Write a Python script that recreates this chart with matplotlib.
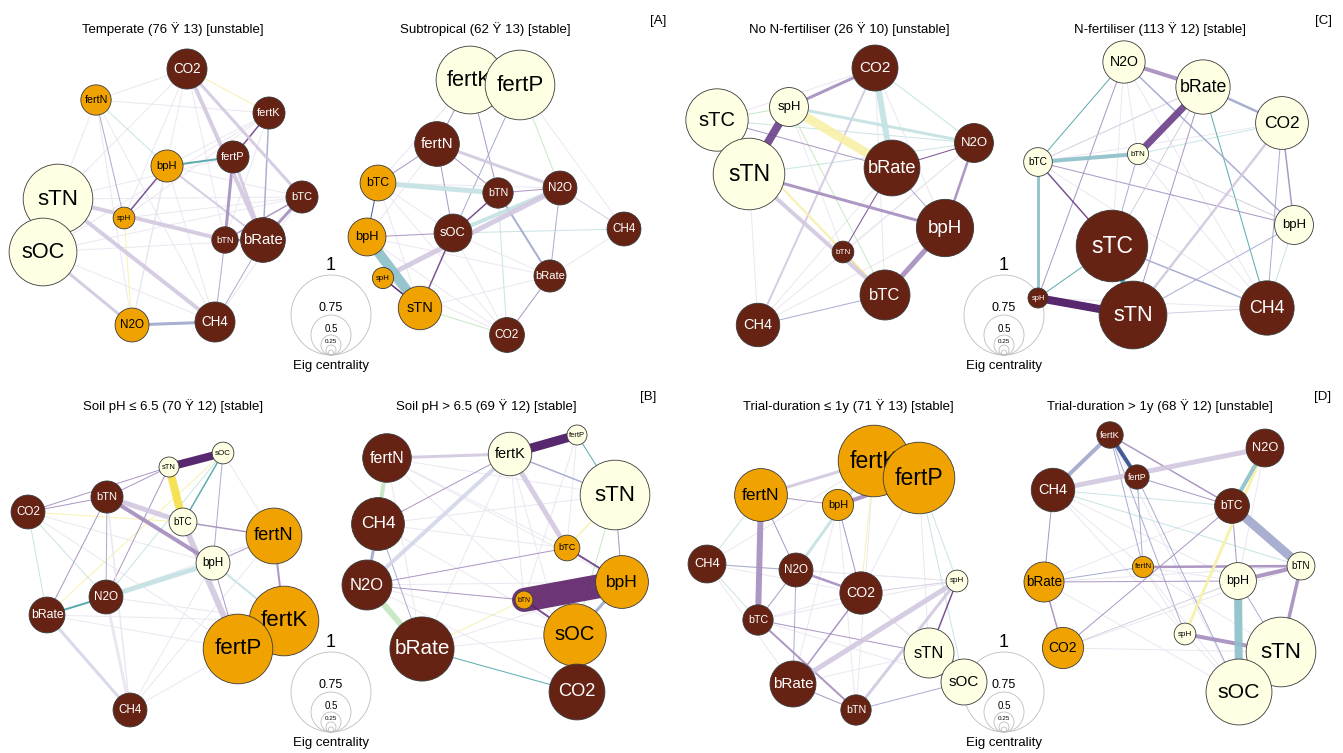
import matplotlib
matplotlib.use("Agg")
import matplotlib.pyplot as plt
from matplotlib.patches import Circle

plt.rcParams['font.family'] = ['Liberation Sans', 'DejaVu Sans']

# node fill by module
NODE_FILL = {"b": "#662314", "o": "#f0a300", "y": "#ffffe3"}
LABEL_INK = {"b": "white", "o": "black", "y": "black"}

# edge colour keys (association type / strength shade)
EDGE_COLOURS = {
    "P": "#45105e", "v": "#5d2067", "p": "#6c3f88", "m": "#a48cbd",
    "l": "#d2c8df", "f": "#e9e5f0", "q": "#d3d6e8", "B": "#30498a",
    "b": "#a0a6cc", "T": "#8cbfc8", "k": "#4aa3a8", "t": "#c4e1e3",
    "Y": "#f4df45", "y": "#f8f0a6", "g": "#c3e6c0",
}

# (name, x, y, eigenvector centrality, module)
temperate_nodes = [
    ("CO2", 187, 69, 0.75, "b"), ("fertN", 96, 100, 0.65, "o"),
    ("fertK", 269, 113, 0.67, "b"), ("bpH", 167, 166, 0.67, "o"),
    ("fertP", 233, 157, 0.67, "b"), ("bTC", 302, 197, 0.67, "b"),
    ("spH", 124, 218, 0.53, "o"), ("bTN", 225, 240, 0.60, "b"),
    ("bRate", 263, 240, 0.79, "b"), ("N2O", 132, 325, 0.69, "o"),
    ("CH4", 215, 322, 0.75, "b"), ("sTN", 58, 199, 0.95, "y"),
    ("sOC", 43, 252, 0.94, "y"),
]
temperate_edges = [
    ("fertN", "CO2", 1, "f"), ("fertN", "fertK", 1, "f"), ("fertN", "sTN", 1, "f"),
    ("sTN", "CO2", 1, "f"), ("sTN", "bTC", 1, "f"), ("sOC", "bTC", 1, "f"),
    ("sOC", "bRate", 1, "f"), ("CO2", "N2O", 1, "f"), ("CO2", "spH", 1, "f"),
    ("fertK", "bpH", 1, "f"), ("fertK", "spH", 1, "f"), ("bpH", "N2O", 1, "f"),
    ("bpH", "CH4", 1, "f"), ("fertN", "CH4", 1, "f"), ("sOC", "CH4", 1, "f"),
    ("bTC", "CH4", 1, "f"), ("spH", "bTC", 1, "f"), ("fertK", "bTN", 1, "f"),
    ("bpH", "bTC", 1, "f"), ("CO2", "bTN", 1, "f"), ("fertN", "N2O", 1, "f"),
    ("sTN", "fertP", 1, "f"), ("sOC", "fertK", 1, "f"),
    ("CO2", "fertK", 1, "y"), ("spH", "N2O", 1, "y"), ("fertN", "bpH", 1, "t"),
    ("fertN", "spH", 1, "b"), ("CH4", "bRate", 1, "b"), ("CH4", "bTN", 1, "b"),
    ("fertK", "bRate", 1.5, "b"), ("bTC", "bTN", 1.5, "m"), ("bpH", "spH", 1.5, "p"),
    ("fertK", "fertP", 1.5, "p"), ("bpH", "fertP", 2, "k"), ("bpH", "bRate", 2, "l"),
    ("bTN", "bRate", 2, "m"), ("bRate", "bTC", 3, "m"), ("fertP", "bTN", 3, "m"),
    ("fertP", "bRate", 3, "l"), ("CO2", "bTC", 3, "l"), ("CO2", "bRate", 4, "l"),
    ("sOC", "N2O", 3, "l"), ("N2O", "CH4", 3, "b"), ("sTN", "bTN", 4, "l"),
    ("sTN", "CH4", 4, "l"),
]

subtropical_nodes = [
    ("fertN", 437, 144, 0.79, "b"), ("bTC", 378, 183, 0.71, "o"),
    ("bTN", 498, 193, 0.65, "b"), ("N2O", 560, 188, 0.69, "b"),
    ("CH4", 624, 229, 0.69, "b"), ("bpH", 367, 237, 0.73, "o"),
    ("sOC", 453, 233, 0.73, "b"), ("bRate", 550, 276, 0.67, "b"),
    ("spH", 383, 278, 0.52, "o"), ("sTN", 420, 308, 0.78, "o"),
    ("CO2", 507, 335, 0.70, "b"), ("fertK", 470, 80, 0.94, "y"),
    ("fertP", 520, 85, 0.95, "y"),
]
subtropical_edges = [
    ("fertP", "N2O", 1, "g"), ("fertK", "bTC", 1, "f"), ("sOC", "bRate", 1, "f"),
    ("sOC", "CO2", 1, "f"), ("sTN", "CO2", 1, "g"), ("sTN", "bRate", 1, "f"),
    ("bTC", "CO2", 1, "f"), ("bpH", "CO2", 1, "f"), ("CH4", "sOC", 1, "t"),
    ("CH4", "bRate", 1, "f"), ("bTC", "N2O", 1, "f"), ("fertN", "bpH", 1, "f"),
    ("bTN", "CO2", 1, "t"), ("bTC", "sOC", 1, "f"), ("fertP", "CH4", 1, "f"),
    ("bpH", "bRate", 1, "f"), ("bTC", "sTN", 1, "f"), ("spH", "CO2", 1, "f"),
    ("fertK", "fertN", 1, "m"), ("fertK", "bTN", 1, "m"), ("fertP", "sOC", 1, "b"),
    ("bTC", "fertN", 1, "m"), ("fertN", "bTN", 1, "m"), ("fertN", "sOC", 1, "m"),
    ("bTN", "N2O", 1, "m"), ("N2O", "bRate", 1, "b"), ("bRate", "CO2", 1, "m"),
    ("N2O", "CH4", 1, "l"), ("bTC", "bpH", 1, "B"), ("bpH", "sOC", 1, "m"),
    ("sOC", "bTN", 1.5, "p"), ("sOC", "sTN", 1.5, "p"), ("spH", "sTN", 1.5, "P"),
    ("bTN", "bRate", 2, "b"), ("fertN", "N2O", 3, "l"), ("bTC", "bTN", 5, "t"),
    ("sOC", "N2O", 4, "t"), ("spH", "N2O", 5, "l"), ("bpH", "sTN", 10, "T"),
]

nofert_nodes = [
    ("CO2", 875, 68, 0.80, "b"), ("sTC", 717, 120, 0.91, "y"),
    ("spH", 789, 107, 0.74, "y"), ("sTN", 749, 174, 0.96, "y"),
    ("bRate", 892, 168, 0.87, "b"), ("N2O", 974, 143, 0.74, "b"),
    ("bpH", 945, 228, 0.88, "b"), ("bTN", 843, 252, 0.53, "b"),
    ("bTC", 885, 295, 0.83, "b"), ("CH4", 758, 325, 0.78, "b"),
]
nofert_edges = [
    ("CH4", "sTN", 1, "f"), ("CH4", "bRate", 1, "f"), ("CH4", "N2O", 1, "f"),
    ("CH4", "bpH", 1, "f"), ("sTC", "N2O", 1, "t"), ("sTN", "N2O", 1, "t"),
    ("spH", "bTC", 1, "g"), ("spH", "bTN", 1, "f"), ("CO2", "bTC", 1, "f"),
    ("CO2", "bpH", 1, "f"), ("sTC", "CO2", 1, "f"), ("bTN", "N2O", 1, "f"),
    ("sTC", "bTN", 1, "f"),
    ("CO2", "N2O", 1, "t"), ("sTC", "spH", 1, "g"), ("sTC", "bRate", 1, "m"),
    ("CH4", "bTC", 1, "b"), ("bRate", "bpH", 1, "b"), ("bRate", "N2O", 1, "p"),
    ("bRate", "bTN", 1, "p"), ("bTN", "bTC", 1, "p"), ("CH4", "CO2", 2, "l"),
    ("sTC", "bTC", 2, "y"), ("N2O", "bpH", 2.5, "m"), ("spH", "N2O", 3, "t"),
    ("spH", "CO2", 3, "m"), ("sTN", "bpH", 3, "m"), ("sTN", "bTC", 4, "l"),
    ("bpH", "bTC", 5, "m"), ("CO2", "bRate", 6, "t"), ("sTN", "spH", 8, "p"),
    ("spH", "bRate", 9, "y"),
]

nfert_nodes = [
    ("N2O", 1124, 62, 0.77, "y"), ("bRate", 1203, 87, 0.86, "y"),
    ("CO2", 1282, 123, 0.85, "y"), ("bTC", 1038, 162, 0.63, "y"),
    ("bTN", 1138, 154, 0.52, "y"), ("bpH", 1294, 225, 0.74, "y"),
    ("sTC", 1112, 246, 0.96, "b"), ("spH", 1038, 298, 0.50, "b"),
    ("sTN", 1133, 315, 0.94, "b"), ("CH4", 1267, 308, 0.86, "b"),
]
nfert_edges = [
    ("N2O", "CH4", 1, "f"), ("bTN", "CH4", 1, "f"), ("bTC", "CH4", 1, "f"),
    ("N2O", "sTC", 1, "f"), ("N2O", "bTN", 1, "f"), ("bTC", "CO2", 1, "f"),
    ("spH", "CH4", 1, "f"),
    ("bTN", "CO2", 1, "t"), ("N2O", "bTC", 1, "k"), ("bRate", "CH4", 1, "k"),
    ("bpH", "CH4", 1, "t"), ("spH", "sTC", 1, "k"), ("N2O", "spH", 1, "m"),
    ("CO2", "CH4", 1, "b"), ("bpH", "sTN", 1, "b"), ("bTC", "bpH", 1, "m"),
    ("bTN", "sTC", 1, "b"), ("bTN", "bpH", 1, "l"), ("sTN", "CH4", 1, "l"),
    ("bRate", "sTC", 1, "l"), ("bRate", "bTC", 1, "l"), ("bRate", "sTN", 1, "m"),
    ("bTC", "sTC", 1.5, "p"), ("CO2", "bpH", 1.5, "m"), ("N2O", "bpH", 1.5, "b"),
    ("sTC", "CH4", 1.5, "b"), ("bRate", "CO2", 2.5, "b"), ("CO2", "sTN", 2.5, "l"),
    ("bTC", "spH", 3, "T"), ("N2O", "bRate", 4, "m"), ("bTC", "bTN", 4, "T"),
    ("sTC", "sTN", 5, "k"), ("bRate", "bTN", 7, "p"), ("spH", "sTN", 8, "P"),
]

acid_nodes = [
    ("sOC", 223, 453, 0.53, "y"), ("sTN", 169, 467, 0.50, "y"),
    ("bTN", 107, 497, 0.67, "b"), ("CO2", 28, 512, 0.69, "b"),
    ("bTC", 183, 522, 0.62, "y"), ("fertN", 274, 536, 0.87, "o"),
    ("bpH", 213, 563, 0.69, "y"), ("N2O", 106, 597, 0.69, "b"),
    ("bRate", 47, 615, 0.71, "b"), ("CH4", 130, 710, 0.69, "b"),
    ("fertK", 284, 621, 0.95, "o"), ("fertP", 238, 649, 0.95, "o"),
]
acid_edges = [
    ("CH4", "fertN", 1, "f"), ("CH4", "fertP", 1, "f"), ("bRate", "fertP", 1, "f"),
    ("N2O", "fertK", 1, "f"), ("N2O", "fertN", 1, "f"), ("CO2", "bpH", 1, "f"),
    ("bRate", "bpH", 1, "f"), ("CH4", "bpH", 1, "f"), ("sOC", "fertN", 1, "f"),
    ("CO2", "fertP", 1, "f"), ("bRate", "fertK", 1, "f"),
    ("bRate", "sOC", 1, "y"), ("N2O", "sOC", 1, "t"), ("CO2", "bTC", 1, "y"),
    ("CO2", "N2O", 1, "t"), ("CO2", "bRate", 1, "t"), ("bTN", "CO2", 1, "m"),
    ("CO2", "sTN", 1, "m"), ("bTN", "sTN", 1, "m"), ("bTN", "N2O", 1, "b"),
    ("bTN", "bRate", 1, "m"), ("N2O", "sTN", 1, "m"), ("bpH", "fertN", 1, "m"),
    ("bpH", "fertP", 1, "m"), ("sOC", "bpH", 1, "b"), ("bTN", "CH4", 1.5, "f"),
    ("sOC", "bTC", 1.5, "k"), ("bTC", "fertN", 1.5, "m"), ("fertN", "fertK", 2, "m"),
    ("bpH", "fertK", 2, "t"), ("bRate", "N2O", 2, "k"), ("N2O", "CH4", 3, "f"),
    ("bRate", "CH4", 3, "q"), ("bTN", "bTC", 5, "l"), ("bTC", "fertP", 6, "l"),
    ("bTN", "bpH", 4, "m"), ("N2O", "bpH", 5, "t"), ("sTN", "bTC", 8, "Y"),
    ("sTN", "sOC", 8, "P"),
]

alkaline_nodes = [
    ("fertP", 577, 435, 0.50, "y"), ("fertK", 510, 454, 0.78, "y"),
    ("fertN", 387, 458, 0.82, "b"), ("sTN", 615, 495, 0.95, "y"),
    ("CH4", 378, 524, 0.85, "b"), ("bTC", 567, 548, 0.59, "o"),
    ("N2O", 367, 585, 0.83, "b"), ("bpH", 622, 582, 0.85, "o"),
    ("bTN", 524, 600, 0.46, "o"), ("bRate", 422, 649, 0.92, "b"),
    ("sOC", 575, 635, 0.91, "o"), ("CO2", 577, 692, 0.87, "b"),
]
alkaline_edges = [
    ("fertN", "bTC", 1, "f"), ("fertN", "bpH", 1, "f"), ("fertN", "sOC", 1, "f"),
    ("CH4", "bTC", 1, "f"), ("fertP", "bTN", 1, "f"), ("fertP", "bTC", 1, "f"),
    ("fertK", "bTN", 1, "f"), ("fertK", "bRate", 1, "f"), ("bRate", "bpH", 1, "f"),
    ("bRate", "sOC", 1, "f"), ("N2O", "sOC", 1, "f"), ("CH4", "sOC", 1, "f"),
    ("N2O", "bpH", 1, "f"), ("fertN", "sTN", 1, "f"), ("CH4", "sTN", 1, "f"),
    ("fertN", "bRate", 1, "f"), ("N2O", "CO2", 1, "f"), ("fertK", "CO2", 1, "f"),
    ("bRate", "CO2", 1, "k"), ("bRate", "bTN", 1, "y"), ("CH4", "bRate", 1, "b"),
    ("N2O", "bTC", 1, "m"), ("N2O", "bTN", 1, "m"), ("fertK", "CH4", 1, "m"),
    ("fertP", "sTN", 1, "k"), ("sTN", "bpH", 1, "m"), ("sTN", "sOC", 1, "g"),
    ("fertK", "sTN", 1.5, "b"), ("bTC", "sTN", 1.5, "y"), ("bTC", "bpH", 2, "p"),
    ("bTN", "sOC", 2, "p"), ("fertN", "fertK", 3, "l"), ("CH4", "N2O", 3, "b"),
    ("bpH", "sOC", 3, "b"), ("fertN", "CH4", 4, "g"), ("fertK", "N2O", 4, "q"),
    ("fertK", "bTC", 5, "l"), ("N2O", "bRate", 6, "g"), ("fertK", "fertP", 9, "P"),
    ("bTN", "bpH", 24, "v"),
]

short_nodes = [
    ("fertN", 761, 495, 0.85, "o"), ("fertK", 874, 461, 0.96, "o"),
    ("fertP", 919, 478, 0.96, "o"), ("bpH", 838, 505, 0.66, "o"),
    ("CH4", 707, 564, 0.73, "b"), ("N2O", 796, 570, 0.69, "b"),
    ("CO2", 861, 593, 0.77, "b"), ("spH", 957, 581, 0.53, "y"),
    ("bTC", 758, 620, 0.65, "b"), ("sTN", 929, 653, 0.83, "y"),
    ("sOC", 964, 682, 0.80, "y"), ("bRate", 793, 684, 0.80, "b"),
    ("bTN", 856, 710, 0.65, "b"),
]
short_edges = [
    ("CH4", "CO2", 1, "f"), ("CH4", "spH", 1, "f"), ("CH4", "bRate", 1, "f"),
    ("bTC", "CO2", 1, "f"), ("bpH", "bRate", 1, "f"), ("fertK", "bTN", 1, "f"),
    ("fertP", "CO2", 1, "f"), ("N2O", "spH", 1, "f"), ("CO2", "sTN", 1, "f"),
    ("bRate", "sTN", 1, "f"), ("bTC", "spH", 1, "f"), ("fertP", "sOC", 1, "t"),
    ("fertP", "spH", 1, "t"), ("fertP", "sTN", 1, "f"), ("fertK", "CH4", 1, "f"),
    ("bpH", "bTN", 1, "f"), ("fertK", "CO2", 1, "y"), ("CO2", "sOC", 1, "f"),
    ("bTC", "sOC", 1, "f"),
    ("fertN", "bpH", 1, "m"), ("fertN", "N2O", 1, "m"), ("fertN", "CH4", 1, "t"),
    ("CH4", "bTC", 1, "t"), ("CH4", "N2O", 1, "b"), ("N2O", "bTC", 1, "m"),
    ("N2O", "bRate", 1, "b"), ("bRate", "bTN", 1, "m"), ("bTN", "sOC", 1, "b"),
    ("bTC", "sTN", 1, "m"), ("CO2", "spH", 1, "l"), ("bpH", "CO2", 1, "m"),
    ("CO2", "bRate", 1.5, "m"), ("spH", "sTN", 1.5, "p"), ("bTC", "bTN", 2, "m"),
    ("N2O", "CO2", 2.5, "m"), ("fertK", "fertN", 3, "l"), ("fertK", "N2O", 3, "t"),
    ("spH", "bTN", 3, "l"), ("fertP", "bpH", 4, "m"), ("spH", "bRate", 5, "l"),
    ("fertN", "bTC", 6, "m"),
]

long_nodes = [
    ("fertK", 1110, 435, 0.60, "b"), ("N2O", 1265, 448, 0.73, "b"),
    ("fertP", 1137, 477, 0.57, "b"), ("CH4", 1053, 490, 0.78, "b"),
    ("bTC", 1232, 506, 0.70, "b"), ("bTN", 1301, 566, 0.62, "y"),
    ("fertN", 1143, 567, 0.52, "o"), ("bpH", 1238, 581, 0.72, "y"),
    ("bRate", 1044, 582, 0.75, "o"), ("spH", 1185, 634, 0.53, "y"),
    ("CO2", 1063, 648, 0.76, "o"), ("sTN", 1281, 652, 0.95, "y"),
    ("sOC", 1239, 692, 0.93, "y"),
]
long_edges = [
    ("CH4", "bTC", 1, "t"), ("CH4", "fertN", 1, "f"), ("CH4", "spH", 1, "f"),
    ("bRate", "bTC", 1, "f"), ("fertN", "sOC", 1, "f"), ("fertN", "sTN", 1, "f"),
    ("fertN", "bpH", 1, "f"), ("spH", "sOC", 1, "f"), ("N2O", "bpH", 1, "f"),
    ("CO2", "sTN", 1, "f"), ("CH4", "bTN", 1, "t"), ("bRate", "sOC", 1, "f"),
    ("CO2", "bTN", 1, "f"), ("fertK", "sOC", 1, "f"), ("CH4", "bpH", 1, "f"),
    ("bRate", "bTN", 1, "f"), ("fertN", "spH", 1, "f"),
    ("fertK", "fertN", 1, "b"), ("fertP", "fertN", 1, "b"), ("fertK", "spH", 1, "b"),
    ("fertP", "sOC", 1, "b"), ("bRate", "CH4", 1, "m"), ("fertP", "bTC", 1, "m"),
    ("bTC", "bpH", 1, "m"), ("bTC", "CO2", 1, "m"), ("bpH", "CO2", 1, "l"),
    ("bRate", "bpH", 1, "m"), ("bRate", "fertN", 1, "b"), ("bpH", "sTN", 1, "b"),
    ("CO2", "bRate", 1.5, "m"), ("fertK", "bTC", 1.5, "m"), ("fertN", "bTN", 2.5, "m"),
    ("N2O", "spH", 3, "y"), ("bTN", "sTN", 3.5, "m"), ("N2O", "bTC", 4, "T"),
    ("bpH", "bTN", 4, "m"), ("spH", "sTN", 4, "m"), ("fertK", "CH4", 4, "b"),
    ("fertK", "fertP", 4, "B"), ("CH4", "N2O", 5, "l"), ("bpH", "sOC", 8, "T"),
    ("bTC", "bTN", 9, "b"),
]

panel_titles = [
    "Temperate (76 Ÿ 13) [unstable]", "Subtropical (62 Ÿ 13) [stable]",
    "No N-fertiliser (26 Ÿ 10) [unstable]", "N-fertiliser (113 Ÿ 12) [stable]",
    "Soil pH ≤ 6.5 (70 Ÿ 12) [stable]", "Soil pH > 6.5 (69 Ÿ 12) [stable]",
    "Trial-duration ≤ 1y (71 Ÿ 13) [stable]", "Trial-duration > 1y (68 Ÿ 12) [unstable]",
]
group_tags = ["[A]", "[C]", "[B]", "[D]"]
legend_values = [1, 0.75, 0.5, 0.25]

networks = [
    (temperate_nodes, temperate_edges), (subtropical_nodes, subtropical_edges),
    (nofert_nodes, nofert_edges), (nfert_nodes, nfert_edges),
    (acid_nodes, acid_edges), (alkaline_nodes, alkaline_edges),
    (short_nodes, short_edges), (long_nodes, long_edges),
]


def node_radius(eig):
    # radius doubles for every 0.25 of eigenvector centrality, 40 px at 1
    return 40 * 16 ** (eig - 1)


def draw_network(ax, nodes, edges):
    pos = {n[0]: (n[1], n[2]) for n in nodes}
    for a, b, w, c in edges:
        (x0, y0), (x1, y1) = pos[a], pos[b]
        ax.plot([x0, x1], [y0, y1], color=EDGE_COLOURS[c], lw=w * 0.72,
                alpha=0.9, solid_capstyle="round", zorder=2)
    for i, (name, x, y, eig, grp) in enumerate(nodes):
        r = node_radius(eig)
        ax.add_patch(Circle((x, y), r, facecolor=NODE_FILL[grp], edgecolor="#3a3a3a",
                            lw=0.6, zorder=10 + 2 * i))
        fs = (0.6 * r + 1.5) * 0.72
        ax.text(x, y, name, ha="center", va="center", fontsize=fs,
                color=LABEL_INK[grp], zorder=11 + 2 * i)


def draw_legend(ax, cx, bottom):
    label_sizes = [13, 9, 7, 4.5]
    for v, fs in zip(legend_values, label_sizes):
        r = node_radius(v)
        ax.add_patch(Circle((cx, bottom - r), r, facecolor="none", edgecolor="#bdbdbd",
                            lw=0.6, zorder=5))
        ax.text(cx, bottom - 2 * r - 1, f"{v:g}", ha="center", va="bottom",
                fontsize=fs, zorder=6)
    ax.add_patch(Circle((cx, bottom - 2.5), 2.5, facecolor="none", edgecolor="#bdbdbd",
                        lw=0.6, zorder=5))
    ax.text(cx, bottom + 11, "Eig centrality", ha="center", va="center", fontsize=9.5)


fig = plt.figure(figsize=(13.43, 7.53), dpi=100)
ax = fig.add_axes([0, 0, 1, 1])
ax.set_xlim(0, 1343)
ax.set_ylim(753, 0)
ax.set_aspect("equal")
ax.axis("off")

for nodes, edges in networks:
    draw_network(ax, nodes, edges)

title_x = [173, 485, 849, 1160, 173, 486, 848, 1160]
for i, t in enumerate(panel_titles):
    ty = 29 if i < 4 else 406
    ax.text(title_x[i], ty, t, ha="center", va="center", fontsize=9.5)

for tag, (tx, ty) in zip(group_tags, [(658, 21), (1323, 21), (648, 397), (1323, 397)]):
    ax.text(tx, ty, tag, ha="center", va="center", fontsize=9.5)

for cx, bottom in [(331, 355), (1004, 355), (331, 732), (1004, 732)]:
    draw_legend(ax, cx, bottom)

fig.savefig("out.png", dpi=100, facecolor="white")
